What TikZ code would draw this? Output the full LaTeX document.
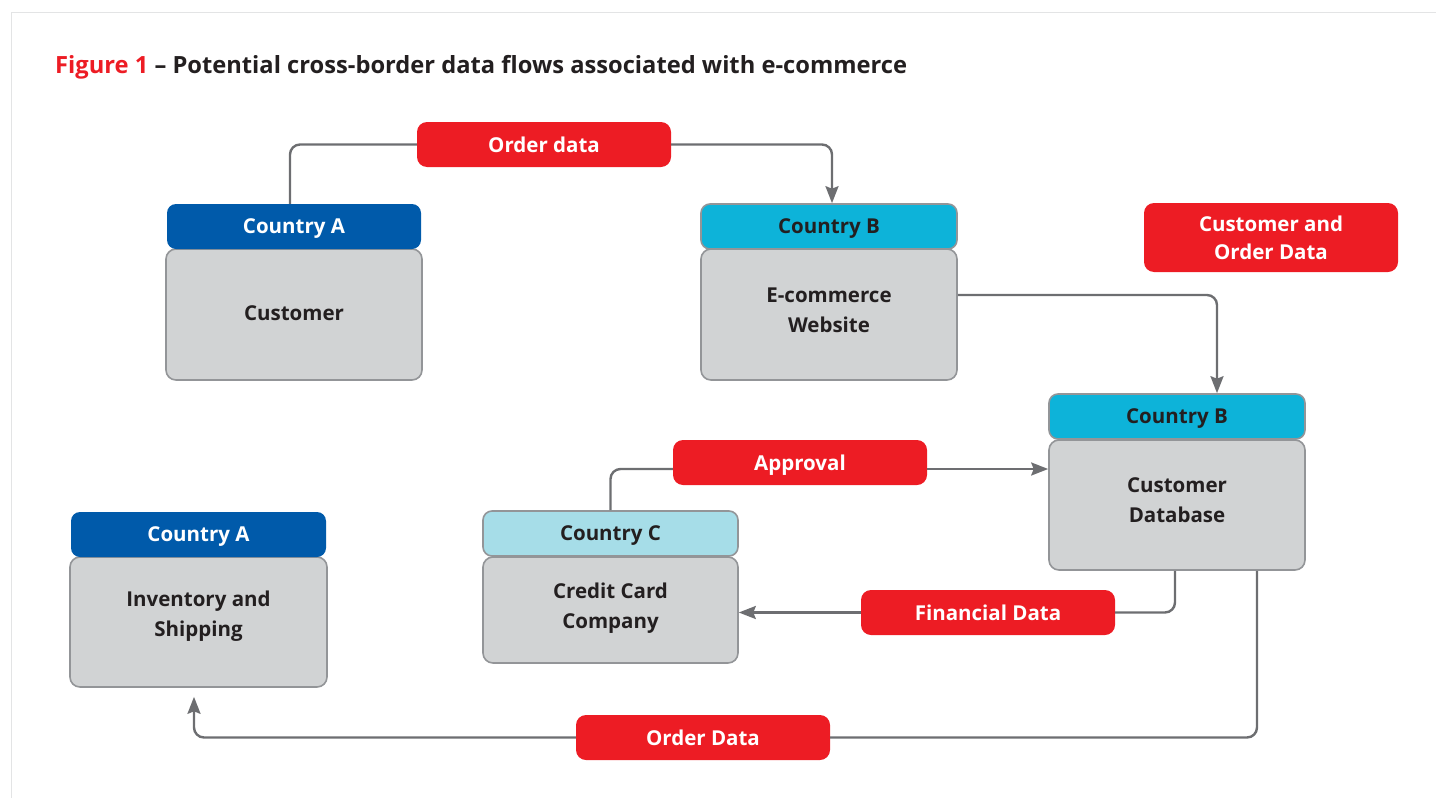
\documentclass[tikz,border=0pt]{standalone}
\usepackage{fontspec}
\setmainfont{Open Sans}
\usetikzlibrary{arrows.meta,calc}

\definecolor{figred}{HTML}{ED1C24}
\definecolor{darkblue}{HTML}{005AAA}
\definecolor{brightcyan}{HTML}{0DB3D9}
\definecolor{palecyan}{HTML}{A6DDE8}
\definecolor{bodygray}{HTML}{D1D3D4}
\definecolor{edgegray}{HTML}{939598}
\definecolor{linegray}{HTML}{6D6E71}
\definecolor{inkdark}{HTML}{231F20}
\definecolor{framegray}{HTML}{E3E4E5}

\tikzset{
  boxfont/.style={font=\bfseries\fontsize{20.5}{30}\selectfont},
  header/.style={boxfont, rounded corners=9pt, minimum height=45pt, inner sep=0pt,
                 text depth=0pt, text=inkdark},
  hdrblue/.style={header, fill=darkblue, text=white},
  hdrcyan/.style={header, fill=brightcyan, draw=edgegray, line width=1.6pt},
  hdrpale/.style={header, fill=palecyan, draw=edgegray, line width=1.6pt},
  bodybox/.style={rounded corners=10pt, fill=bodygray, draw=edgegray, line width=1.6pt, inner sep=0pt},
  bodytext/.style={boxfont, align=center, text=inkdark},
  flowlabel/.style={boxfont, rounded corners=10pt, fill=figred, text=white, align=center,
                    minimum width=254pt, inner sep=0pt},
  onelabel/.style={flowlabel, minimum height=45pt, text depth=0pt},
  conn/.style={draw=linegray, line width=2.4pt, rounded corners=10pt},
  arr/.style={conn, -{Stealth[length=17pt, width=13pt, inset=2.5pt]}},
}

\begin{document}
\begin{tikzpicture}[x=1pt, y=-1pt]
\useasboundingbox (0,0) rectangle (1436,798);

% outer frame (top and left edges)
\draw[framegray, line width=1.6pt] (11.5,798) -- (11.5,12.5) -- (1436,12.5);

% title
\node[anchor=base west, inner sep=0pt, text=inkdark,
      font=\bfseries\fontsize{23.7}{30}\selectfont] (title) at (55,73)
  {{\color{figred}Figure 1} – Potential cross-border data flows associated with e-commerce};

% Customer (Country A)
\node[bodybox, minimum width=256pt, minimum height=131pt] (custB) at (294,314.5) {};
\node[hdrblue, minimum width=254pt] (custH) at (294,226.5) {Country A};
\node[bodytext] (custT) at (294,313.5) {Customer};

% E-commerce website (Country B)
\node[bodybox, minimum width=256pt, minimum height=131pt] (ecomB) at (829,314.5) {};
\node[hdrcyan, minimum width=256pt] (ecomH) at (829,226.5) {Country B};
\node[bodytext] (ecomT) at (829,310) {E-commerce\\Website};

% Customer database (Country B)
\node[bodybox, minimum width=256pt, minimum height=130pt] (dbB) at (1177,505) {};
\node[hdrcyan, minimum width=256pt] (dbH) at (1177,416.5) {Country B};
\node[bodytext] (dbT) at (1177,500) {Customer\\Database};

% Credit card company (Country C)
\node[bodybox, minimum width=255pt, minimum height=106pt] (ccB) at (610.5,610) {};
\node[hdrpale, minimum width=255pt] (ccH) at (610.5,533.5) {Country C};
\node[bodytext] (ccT) at (610.5,608.5) {Credit Card\\Company};

% Inventory and shipping (Country A)
\node[bodybox, minimum width=257pt, minimum height=130pt] (invB) at (198.5,622) {};
\node[hdrblue, minimum width=255pt] (invH) at (198.5,534.5) {Country A};
\node[bodytext] (invT) at (198.5,616) {Inventory and\\Shipping};

% flow labels
\node[onelabel] (orderLbl) at (544,144.5) {Order data};
\node[flowlabel, minimum height=69pt, font=\bfseries\fontsize{20.5}{28}\selectfont]
  (custOrdLbl) at (1271,237.5) {Customer and\\Order Data};
\node[onelabel] (apprLbl) at (800,462.5) {Approval};
\node[onelabel] (finLbl) at (988,612.5) {Financial Data};
\node[onelabel] (ordLbl) at (703,737.5) {Order Data};

% customer -> website
\draw[conn] ([xshift=-4pt]custH.north) |- (orderLbl.west);
\draw[arr] (orderLbl.east) -| ([xshift=3pt]ecomH.north);

% website -> customer database
\draw[arr] ([yshift=19.5pt]ecomB.east) -| ([xshift=40pt]dbH.north);

% credit card company -> customer database
\draw[conn] (ccH.north) |- ([yshift=-6.5pt]apprLbl.west);
\draw[arr] ([yshift=-6.5pt]apprLbl.east) coordinate (apprOut) -- (apprOut -| dbB.west);

% customer database -> credit card company
\draw[conn] ([xshift=-2pt]dbB.south) |- (finLbl.east);
\draw[arr] (finLbl.west) -- (finLbl.west -| ccB.east);

% customer database -> inventory and shipping
\draw[conn] ([xshift=80pt]dbB.south) |- (ordLbl.east);
\draw[arr, shorten >=9pt] (ordLbl.west) -| ([xshift=-4.5pt]invB.south);
\end{tikzpicture}
\end{document}
